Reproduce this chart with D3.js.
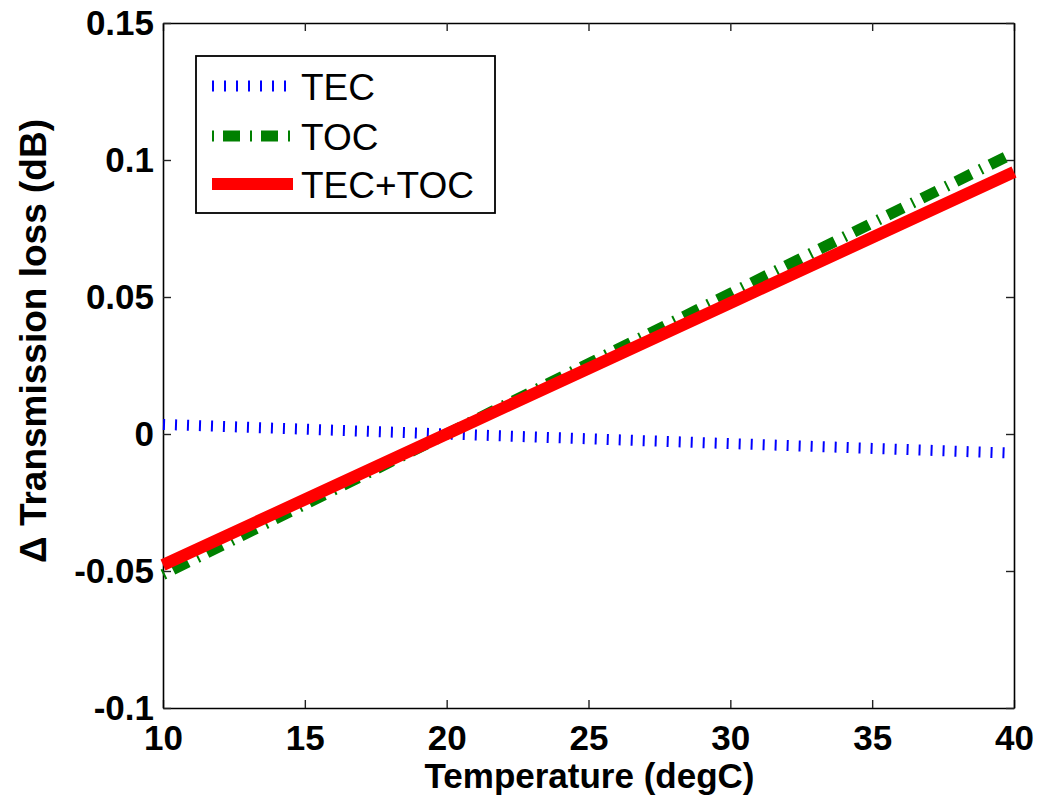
<!DOCTYPE html>
<html>
<head>
<meta charset="utf-8">
<script src="https://cdn.jsdelivr.net/npm/d3@7"></script>
<style>
  html, body { margin: 0; padding: 0; background: #fff; }
  svg { display: block; }
  text { font-family: "Liberation Sans", Arial, Helvetica, sans-serif; }
</style>
</head>
<body>
<svg id="chart" width="1041" height="804"></svg>
<script>
// ---- data ----
const temperature = [10, 15, 20, 25, 30, 35, 40];
const tecLoss     = [0.0035, 0.00175, 0, -0.00175, -0.0035, -0.00525, -0.007];
const tocLoss     = [-0.0513, -0.0257, 0, 0.0257, 0.0513, 0.0770, 0.1026];
const sumLoss     = [-0.0478, -0.0239, 0, 0.0239, 0.0478, 0.0717, 0.0956];
const seriesNames = ["TEC", "TOC", "TEC+TOC"];
const xTicks = [10, 15, 20, 25, 30, 35, 40];
const yTicks = [-0.1, -0.05, 0, 0.05, 0.1, 0.15];
const yTickLabels = ["-0.1", "-0.05", "0", "0.05", "0.1", "0.15"];
const xLabel = "Temperature (degC)";
const yLabel = "\u0394 Transmission loss (dB)";

// ---- layout ----
const L = 163, R = 1014, T = 23, B = 708;
const svg = d3.select("#chart");
svg.append("rect").attr("width", 1041).attr("height", 804).attr("fill", "#fff");

const x = d3.scaleLinear().domain([10, 40]).range([L, R]);
const y = d3.scaleLinear().domain([-0.1, 0.15]).range([B, T]);

const fontSize = 35;

// axes
const gB = svg.append("g").attr("transform", `translate(0,${B})`)
  .call(d3.axisBottom(x).tickValues(xTicks).tickSizeInner(-8).tickSizeOuter(0).tickPadding(17).tickFormat(d3.format("d")));
const gT = svg.append("g").attr("transform", `translate(0,${T})`)
  .call(d3.axisTop(x).tickValues(xTicks).tickSizeInner(-8).tickSizeOuter(0).tickFormat(""));
const gLft = svg.append("g").attr("transform", `translate(${L},0)`)
  .call(d3.axisLeft(y).tickValues(yTicks).tickSizeInner(-8).tickSizeOuter(0).tickPadding(9)
    .tickFormat((d, i) => yTickLabels[i]));
const gRt = svg.append("g").attr("transform", `translate(${R},0)`)
  .call(d3.axisRight(y).tickValues(yTicks).tickSizeInner(-8).tickSizeOuter(0).tickFormat(""));

[gB, gT, gLft, gRt].forEach(g => {
  g.select(".domain").attr("stroke", "#000").attr("stroke-width", 1.6);
  g.selectAll(".tick line").attr("stroke", "#222").attr("stroke-width", 1.4);
  g.selectAll(".tick text")
    .attr("fill", "#000")
    .style("font-size", fontSize + "px")
    .style("font-weight", "bold")
    .style("font-family", '"Liberation Sans", Arial, sans-serif');
});

// series
const styles = [
  { color: "#0000ff", width: 11, dash: "2,10" },
  { color: "#008000", width: 11, dash: "2,9,17,10" },
  { color: "#ff0000", width: 12, dash: null }
];
const seriesValues = [tecLoss, tocLoss, sumLoss];

const line = d3.line().x(d => x(d[0])).y(d => y(d[1]));

seriesValues.forEach((vals, i) => {
  const pts = temperature.map((t, j) => [t, vals[j]]);
  const p = svg.append("path")
    .attr("d", line(pts))
    .attr("fill", "none")
    .attr("stroke", styles[i].color)
    .attr("stroke-width", styles[i].width)
    .attr("stroke-linecap", "butt");
  if (styles[i].dash) p.attr("stroke-dasharray", styles[i].dash);
});

// legend
const lg = svg.append("g");
lg.append("rect")
  .attr("x", 196).attr("y", 56).attr("width", 299).attr("height", 157)
  .attr("fill", "#fff").attr("stroke", "#000").attr("stroke-width", 1.8);
const rows = [86, 136, 184];
seriesNames.forEach((name, i) => {
  const l = lg.append("line")
    .attr("x1", 212).attr("x2", 293)
    .attr("y1", rows[i]).attr("y2", rows[i])
    .attr("stroke", styles[i].color)
    .attr("stroke-width", styles[i].width);
  if (styles[i].dash) l.attr("stroke-dasharray", styles[i].dash);
  lg.append("text")
    .attr("x", 301).attr("y", rows[i] + 13.5)
    .style("font-size", "37px")
    .text(name);
});

// axis labels
svg.append("text")
  .attr("x", (L + R) / 2 + 1).attr("y", 788)
  .attr("text-anchor", "middle")
  .style("font-size", fontSize + "px").style("font-weight", "bold")
  .text(xLabel);
svg.append("text")
  .attr("transform", `translate(46,${341}) rotate(-90)`)
  .attr("text-anchor", "middle")
  .style("font-size", "37px").style("font-weight", "bold")
  .text(yLabel);
</script>
</body>
</html>
